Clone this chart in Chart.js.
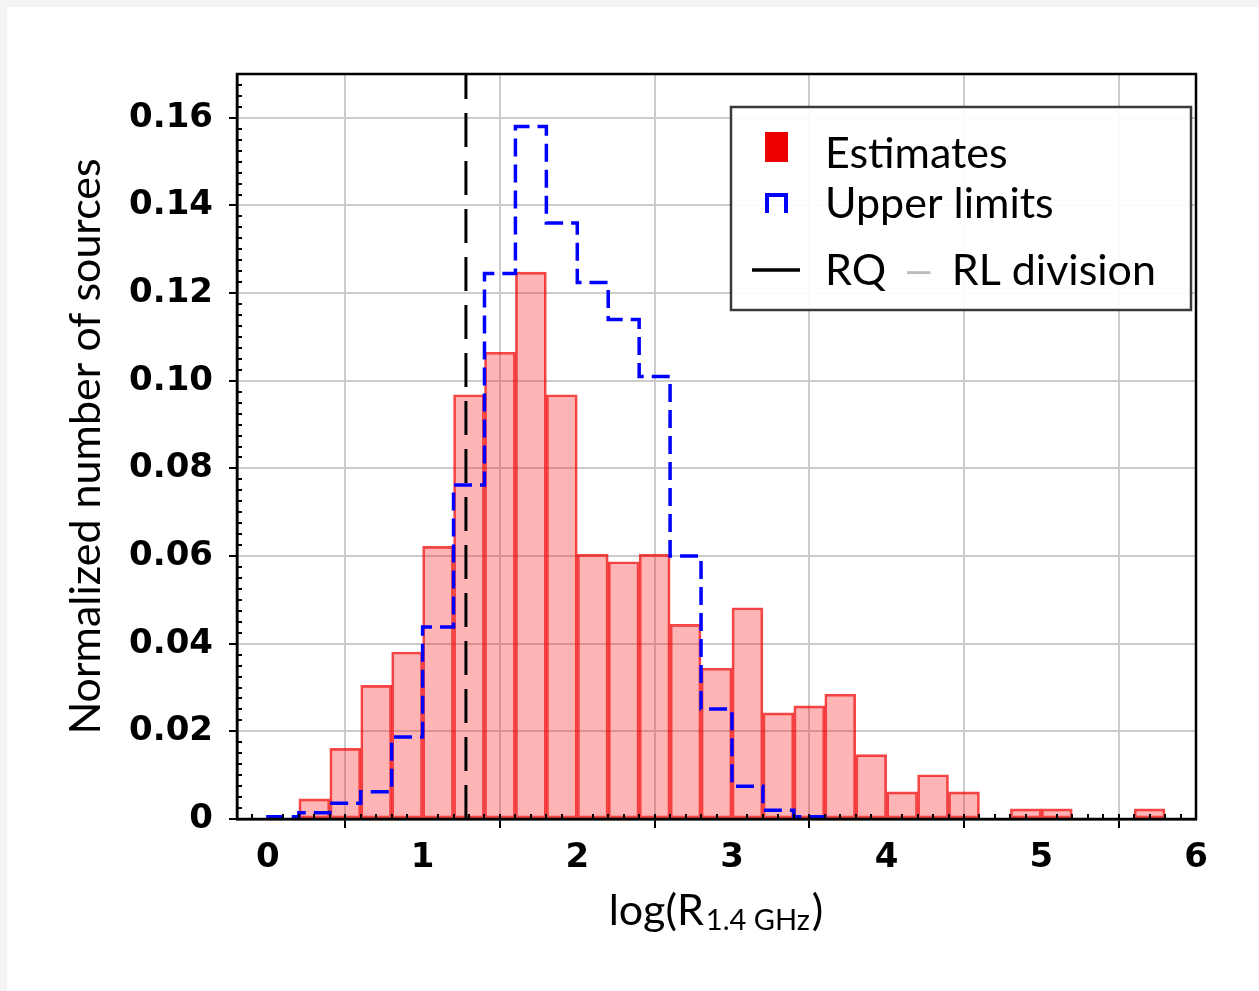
<!DOCTYPE html>
<html>
<head>
<meta charset="utf-8">
<script src="https://cdn.jsdelivr.net/npm/chart.js@4.4.1/dist/chart.umd.min.js"></script>
<style>
  html, body { margin: 0; background: #f4f4f4; }
  #wrap { position: absolute; left: 7px; top: 7px; width: 1252px; height: 984px; background: #fff; }
  canvas { display: block; }
</style>
</head>
<body>
<div id="wrap"><canvas id="hist" width="1252" height="984"></canvas></div>
<script>
// histogram of estimates, bin centres (bins are 0.2 wide)
const estCenters = [0.3,0.5,0.7,0.9,1.1,1.3,1.5,1.7,1.9,2.1,2.3,2.5,2.7,2.9,3.1,3.3,3.5,3.7,3.9,4.1,4.3,4.5,4.7,4.9,5.1,5.3,5.5,5.7];
const estValues  = [0.0046,0.0161,0.0305,0.0381,0.0622,0.0968,0.1065,0.1248,0.0968,0.0604,0.0587,0.0604,0.0444,0.0344,
                    0.0482,0.0242,0.0258,0.0285,0.0147,0.0062,0.0101,0.0062,0,0.0023,0.0023,0,0,0.0023];

// upper limits, step histogram: bin edges, one value per bin
const upEdges  = [0,0.2,0.4,0.6,0.8,1.0,1.2,1.4,1.6,1.8,2.0,2.2,2.4,2.6,2.8,3.0,3.2,3.4,3.6];
const upValues = [0.0005,0.0014,0.0036,0.0062,0.0187,0.0438,0.0762,0.1245,0.158,0.136,0.1224,0.114,0.101,0.060,0.0251,0.0075,0.002,0.0005];

const rqRlDivision = 1.28;

const xTicks = [0,1,2,3,4,5,6];
const yTicks = [0,0.02,0.04,0.06,0.08,0.10,0.12,0.14,0.16];

const estPts = estCenters.map((x,i) => ({x:x, y:estValues[i]}));
// stepped 'before' (horizontal first): each left edge carries its bin value
let upPts = [{x:upEdges[0], y:0}];
upValues.forEach((v,i) => upPts.push({x:upEdges[i], y:v}));
upPts.push({x:upEdges[upEdges.length-1], y:upValues[upValues.length-1]});
upPts.push({x:upEdges[upEdges.length-1], y:0});

const TITLE_FONT = 'Lato, "DejaVu Sans", sans-serif';

const extras = {
  id:'extras',
  afterDraw(chart){
    const c = chart.ctx, a = chart.chartArea;
    const xs = chart.scales.x, ys = chart.scales.y;
    c.save();
    // minor ticks
    c.strokeStyle = '#000'; c.lineWidth = 2;
    c.beginPath();
    for (let k=-2; k<=60; k++){
      if (k % 10 === 0) continue;
      const px = Math.round(xs.getPixelForValue(k/10));
      c.moveTo(px, a.bottom); c.lineTo(px, a.bottom-5);
    }
    for (let k=1; k<=68; k++){
      if (k % 8 === 0) continue;
      const py = Math.round(ys.getPixelForValue(k*0.0025));
      c.moveTo(a.left, py); c.lineTo(a.left+5, py);
    }
    c.stroke();
    // frame
    c.lineWidth = 2.5;
    c.strokeRect(a.left, a.top, a.right-a.left, a.bottom-a.top);

    // legend
    c.fillStyle = 'rgba(255,255,255,0.92)';
    c.fillRect(724, 100, 460, 203);
    c.strokeStyle = '#3a3a3a'; c.lineWidth = 2.5;
    c.strokeRect(724, 100, 460, 203);
    c.fillStyle = '#ee0000';
    c.fillRect(758, 125, 23, 30);
    c.strokeStyle = '#0000ff'; c.lineWidth = 4;
    c.beginPath(); c.moveTo(760, 206); c.lineTo(760, 188); c.lineTo(779, 188); c.lineTo(779, 206); c.stroke();
    c.strokeStyle = '#000'; c.lineWidth = 3.5;
    c.beginPath(); c.moveTo(745, 263); c.lineTo(793, 263); c.stroke();
    c.font = '43px ' + TITLE_FONT;
    c.fillStyle = '#000'; c.textBaseline = 'alphabetic'; c.textAlign = 'left';
    c.fillText('Estimates', 818, 161);
    c.fillText('Upper limits', 818, 211);
    let tx = 818;
    c.fillText('RQ', tx, 278); tx += c.measureText('RQ').width + 16;
    c.save();
    c.fillStyle = '#bbbbbb';
    c.translate(tx, 278); c.scale(1.35, 1);
    c.fillText('\u2013', 0, 0);
    c.restore();
    tx += c.measureText('\u2013').width * 1.35 + 16;
    c.fillStyle = '#000'; c.fillText('RL division', tx, 278);

    // x axis title with subscript
    const main1 = 'log(R', sub = '1.4 GHz', main2 = ')';
    c.font = '43px ' + TITLE_FONT;
    const w1 = c.measureText(main1).width, w3 = c.measureText(main2).width;
    c.font = '29px ' + TITLE_FONT;
    const w2 = c.measureText(sub).width;
    let x0 = 709 - (w1 + w2 + w3 + 4) / 2;
    c.font = '43px ' + TITLE_FONT;
    c.fillText(main1, x0, 918);
    c.font = '29px ' + TITLE_FONT;
    c.fillText(sub, x0 + w1 + 2, 923);
    c.font = '43px ' + TITLE_FONT;
    c.fillText(main2, x0 + w1 + w2 + 4, 918);
    c.restore();
  }
};

new Chart(document.getElementById('hist'), {
  type:'bar',
  data:{ datasets:[
    { type:'line', label:'RQ \u2013 RL division', data:[{x:rqRlDivision,y:0},{x:rqRlDivision,y:0.17}],
      borderColor:'#000', borderWidth:3, borderDash:[34,14], pointRadius:0, fill:false, order:0 },
    { type:'line', label:'Upper limits', data:upPts, stepped:'before',
      borderColor:'#0000ff', borderWidth:3.5, borderDash:[18,8], pointRadius:0, fill:false, order:1 },
    { type:'bar', label:'Estimates', data:estPts,
      backgroundColor:'rgba(255,0,0,0.29)', borderColor:'rgba(240,0,0,0.72)', borderWidth:2, borderSkipped:false,
      barPercentage:1, categoryPercentage:1, order:2 }
  ]},
  options:{
    responsive:false, animation:false,
    layout:{ padding:{ left:49, top:67, right:63, bottom:0 } },
    plugins:{ legend:{display:false}, tooltip:{enabled:false} },
    scales:{
      x:{
        type:'linear', min:-0.2, max:6, offset:false,
        afterBuildTicks: s => { s.ticks = xTicks.map(v => ({value:v})); },
        afterFit: s => { s.height = 172; },
        ticks:{ color:'#000', padding:10, font:{family:'"DejaVu Sans"', size:34, weight:'bold'} },
        grid:{ color:'#cccccc', lineWidth:2, tickColor:'#000', tickLength:9, tickWidth:2 },
        border:{ color:'#000', width:2.5 }
      },
      y:{
        min:0, max:0.17,
        afterBuildTicks: s => { s.ticks = yTicks.map(v => ({value:v})); },
        afterFit: s => { s.width = 230 - 49; },
        ticks:{ color:'#000', padding:16, font:{family:'"DejaVu Sans"', size:34, weight:'bold'},
                callback: v => v === 0 ? '0' : v.toFixed(2) },
        grid:{ color:'#cccccc', lineWidth:2, tickColor:'#000', tickLength:8, tickWidth:2 },
        border:{ color:'#000', width:2.5 },
        title:{ display:true, text:'Normalized number of sources', color:'#000',
                font:{family:TITLE_FONT, size:43}, padding:{top:4, bottom:0} }
      }
    }
  },
  plugins:[extras]
});
</script>
</body>
</html>
